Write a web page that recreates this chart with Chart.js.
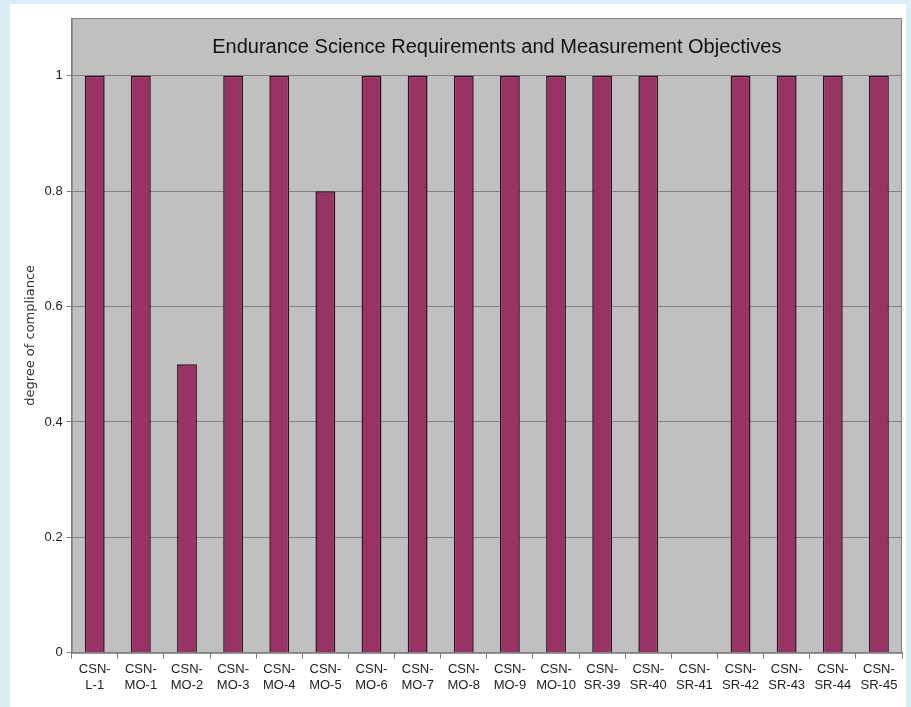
<!DOCTYPE html>
<html lang="en">
<head>
    <meta charset="UTF-8">
    <title>Endurance Science Requirements and Measurement Objectives</title>
    <script src="https://cdn.jsdelivr.net/npm/chart.js"></script>
    <style>
        body { margin: 0; background: #d9eef7; }
        #box { position: absolute; left: 10px; top: 4px; width: 896px; height: 703px; background: #ffffff; }
    </style>
</head>
<body>
    <div id="box"><canvas id="complianceChart"></canvas></div>

    <script>
        // Данные
        const categories = [
            ['CSN-', 'L-1'], ['CSN-', 'MO-1'], ['CSN-', 'MO-2'], ['CSN-', 'MO-3'], ['CSN-', 'MO-4'],
            ['CSN-', 'MO-5'], ['CSN-', 'MO-6'], ['CSN-', 'MO-7'], ['CSN-', 'MO-8'], ['CSN-', 'MO-9'],
            ['CSN-', 'MO-10'], ['CSN-', 'SR-39'], ['CSN-', 'SR-40'], ['CSN-', 'SR-41'], ['CSN-', 'SR-42'],
            ['CSN-', 'SR-43'], ['CSN-', 'SR-44'], ['CSN-', 'SR-45']
        ];
        const compliance = [1, 1, 0.5, 1, 1, 0.8, 1, 1, 1, 1, 1, 1, 1, 0, 1, 1, 1, 1];
        const chartTitle = 'Endurance Science Requirements and Measurement Objectives';
        const yTitle = 'degree of compliance';

        // Серый фон области графика и заголовок внутри неё
        const plotArea = {
            id: 'plotArea',
            beforeDraw(chart) {
                const a = chart.chartArea, c = chart.ctx;
                c.save();
                c.fillStyle = '#c0c0c0';
                c.fillRect(a.left, a.top, a.right - a.left, a.bottom - a.top);
                c.restore();
            },
            afterDraw(chart) {
                const a = chart.chartArea, c = chart.ctx;
                c.save();
                c.strokeStyle = '#808080';
                c.lineWidth = 1;
                c.strokeRect(a.left + 0.5, a.top + 0.5, a.right - a.left - 1, a.bottom - a.top);
                c.fillStyle = '#111111';
                c.font = '20px "Liberation Sans", Arial, sans-serif';
                c.textAlign = 'center';
                c.textBaseline = 'middle';
                c.fillText(chartTitle, (a.left + a.right) / 2 + 10, a.top + 29);
                c.restore();
            }
        };

        const ctx = document.getElementById('complianceChart').getContext('2d');
        const complianceChart = new Chart(ctx, {
            type: 'bar',
            data: {
                labels: categories,
                datasets: [{
                    data: compliance,
                    backgroundColor: '#993366',
                    borderColor: '#2a0e1c',
                    borderWidth: 1.5,
                    barPercentage: 0.43,
                    categoryPercentage: 1
                }]
            },
            options: {
                responsive: true,
                maintainAspectRatio: false,
                animation: false,
                layout: { padding: { left: 11, right: 4, top: 14, bottom: 11 } },
                plugins: { legend: { display: false }, tooltip: { enabled: false } },
                scales: {
                    x: {
                        grid: { offset: true, drawOnChartArea: false, color: '#808080', tickLength: 6 },
                        border: { color: '#808080' },
                        ticks: {
                            autoSkip: false, maxRotation: 0, color: '#222222',
                            font: { family: '"Liberation Sans", Arial, sans-serif', size: 13 }
                        }
                    },
                    y: {
                        min: 0,
                        max: 1.1,
                        afterBuildTicks(scale) {
                            scale.ticks = scale.ticks.filter(t => t.value <= 1.0001);
                        },
                        grid: { color: '#808080', tickLength: 5 },
                        border: { color: '#808080' },
                        ticks: {
                            stepSize: 0.2, color: '#222222', padding: 4,
                            font: { family: '"Liberation Sans", Arial, sans-serif', size: 13 },
                            callback: v => Math.round(v * 10) / 10
                        },
                        title: {
                            display: true, text: yTitle, color: '#333333', padding: 2,
                            font: { family: '"DejaVu Sans", Verdana, sans-serif', size: 13 }
                        }
                    }
                }
            },
            plugins: [plotArea]
        });
    </script>
</body>
</html>
